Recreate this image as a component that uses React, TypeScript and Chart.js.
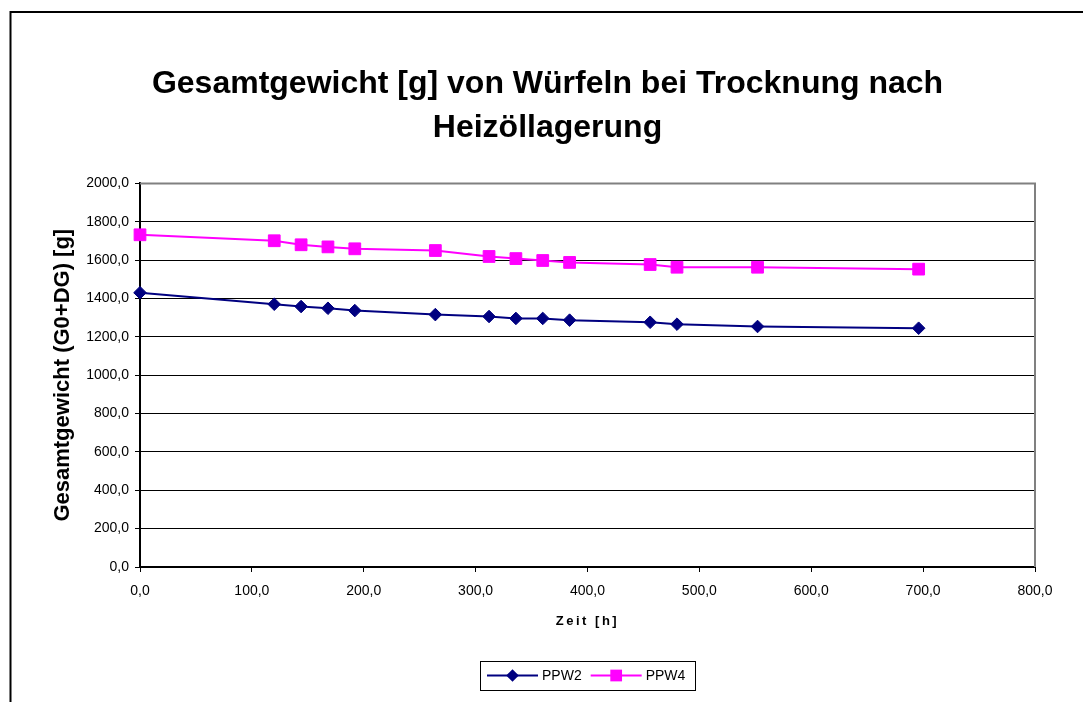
import React, { useEffect, useRef } from "react";
import { Chart, registerables } from "chart.js";

Chart.register(...registerables);

// ---- data ----
const hours = [0, 120, 144, 168, 192, 264, 312, 336, 360, 384, 456, 480, 552, 696];
const ppw2 = [1430, 1370, 1358, 1349, 1337, 1316, 1306, 1296, 1296, 1287, 1276, 1266, 1254, 1245];
const ppw4 = [1732, 1701, 1680, 1669, 1659, 1650, 1619, 1608, 1598, 1588, 1577, 1563, 1563, 1553];
const seriesNames = ["PPW2", "PPW4"];
const titleLines = ["Gesamtgewicht [g] von Würfeln bei Trocknung nach", "Heizöllagerung"];
const xTitle = "Zeit [h]";
const yTitle = "Gesamtgewicht (G0+DG) [g]";

const FONT = "'Liberation Sans', Arial, Helvetica, sans-serif";
const fmt = (v: number | string) => Number(v).toFixed(1).replace(".", ",");

const framePlugin = {
  id: "frame",
  beforeDraw(chart: any) {
    const ctx = chart.ctx;
    ctx.save();
    ctx.fillStyle = "#ffffff";
    ctx.fillRect(0, 0, chart.width, chart.height);
    ctx.strokeStyle = "#000000";
    ctx.lineWidth = 2;
    ctx.strokeRect(10.5, 12, chart.width + 40, chart.height + 40);
    ctx.restore();
  },
  beforeDatasetsDraw(chart: any) {
    const { ctx, chartArea } = chart;
    ctx.save();
    ctx.strokeStyle = "#808080";
    ctx.lineWidth = 2;
    ctx.beginPath();
    ctx.moveTo(chartArea.left, chartArea.top);
    ctx.lineTo(chartArea.right, chartArea.top);
    ctx.lineTo(chartArea.right, chartArea.bottom);
    ctx.stroke();
    ctx.restore();
  },
  afterLayout(chart: any) {
    const s = chart.scales.x;
    if (s && !s.__wrapped) {
      const orig = s.drawTitle.bind(s);
      s.drawTitle = (...args: any[]) => {
        const ctx = chart.ctx as any;
        ctx.save();
        ctx.letterSpacing = "2.5px";
        orig(...args);
        ctx.restore();
      };
      s.__wrapped = true;
    }
  },
};

function drawMarker(ctx: CanvasRenderingContext2D, style: string, r: number, x: number, y: number) {
  ctx.beginPath();
  if (style === "rectRot") {
    ctx.moveTo(x, y - r);
    ctx.lineTo(x + r, y);
    ctx.lineTo(x, y + r);
    ctx.lineTo(x - r, y);
  } else {
    const h = Math.SQRT1_2 * r;
    ctx.rect(x - h, y - h, 2 * h, 2 * h);
  }
  ctx.closePath();
  ctx.fill();
}

const legendPlugin = {
  id: "boxLegend",
  afterDraw(chart: any) {
    const { ctx, chartArea } = chart;
    ctx.save();
    ctx.font = `14px ${FONT}`;
    const items = chart.data.datasets.map((ds: any) => ({
      label: ds.label,
      color: ds.borderColor,
      style: ds.pointStyle,
      r: ds.pointRadius,
      w: ctx.measureText(ds.label).width,
    }));
    const lineLen = 51, gapText = 4, gapItem = 9, padL = 7, padR = 10, boxH = 29;
    let total = padL + padR + gapItem * (items.length - 1);
    items.forEach((it: any) => (total += lineLen + gapText + it.w));
    const cx = (chartArea.left + chartArea.right) / 2;
    const left = Math.round(cx - total / 2);
    const top = Math.round(chartArea.bottom + 94);
    const mid = top + boxH / 2;
    ctx.strokeStyle = "#000000";
    ctx.lineWidth = 1;
    ctx.strokeRect(left + 0.5, top + 0.5, Math.round(total), boxH);
    let x = left + padL;
    items.forEach((it: any) => {
      ctx.strokeStyle = it.color;
      ctx.fillStyle = it.color;
      ctx.lineWidth = 2;
      ctx.beginPath();
      ctx.moveTo(x, mid);
      ctx.lineTo(x + lineLen, mid);
      ctx.stroke();
      drawMarker(ctx, it.style, it.r, x + lineLen / 2, mid);
      ctx.fillStyle = "#000000";
      ctx.textBaseline = "middle";
      ctx.textAlign = "left";
      ctx.fillText(it.label, x + lineLen + gapText, mid + 1);
      x += lineLen + gapText + it.w + gapItem;
    });
    ctx.restore();
  },
};

export default function App() {
  const ref = useRef<HTMLCanvasElement | null>(null);

  useEffect(() => {
    if (!ref.current) return;
    const chart = new Chart(ref.current, {
      type: "line",
      data: {
        datasets: [
          {
            label: seriesNames[0],
            data: hours.map((h, i) => ({ x: h, y: ppw2[i] })),
            borderColor: "#000080",
            backgroundColor: "#000080",
            borderWidth: 2,
            pointStyle: "rectRot",
            pointRadius: 6.3,
            pointBorderWidth: 1,
            pointHoverRadius: 6.3,
            tension: 0,
            clip: false as any,
          },
          {
            label: seriesNames[1],
            data: hours.map((h, i) => ({ x: h, y: ppw4[i] })),
            borderColor: "#FF00FF",
            backgroundColor: "#FF00FF",
            borderWidth: 2,
            pointStyle: "rect",
            pointRadius: 8.3,
            pointBorderWidth: 1,
            pointHoverRadius: 8.3,
            tension: 0,
            clip: false as any,
          },
        ],
      },
      options: {
        responsive: false,
        animation: false,
        events: [],
        layout: { padding: { left: 12, top: 12, right: 0, bottom: 0 } },
        plugins: {
          legend: { display: false },
          tooltip: { enabled: false },
          title: {
            display: true,
            text: titleLines,
            color: "#000000",
            font: { family: FONT, size: 32, weight: "bold", lineHeight: 1.35 },
            padding: { top: 51, bottom: 34 },
          },
        },
        scales: {
          x: {
            type: "linear",
            min: 0,
            max: 800,
            ticks: {
              stepSize: 100,
              autoSkip: false,
              maxRotation: 0,
              color: "#000000",
              font: { family: FONT, size: 14 },
              padding: 11,
              callback: (v: any) => fmt(v),
            },
            grid: { drawOnChartArea: false, drawTicks: true, tickLength: 5, color: "#000000" },
            border: { color: "#000000", width: 2 },
            title: {
              display: true,
              text: xTitle,
              color: "#000000",
              font: { family: FONT, size: 13, weight: "bold" },
              padding: { top: 0, bottom: 73 },
            },
            afterFit: (s: any) => {
              s.height = 135;
            },
          },
          y: {
            type: "linear",
            min: 0,
            max: 2000,
            ticks: {
              stepSize: 200,
              color: "#000000",
              font: { family: FONT, size: 14 },
              padding: 6,
              callback: (v: any) => fmt(v),
            },
            grid: { color: "#000000", lineWidth: 1, tickLength: 5 },
            border: { color: "#000000", width: 2 },
            title: {
              display: true,
              text: yTitle,
              color: "#000000",
              font: { family: FONT, size: 22, weight: "bold" },
              padding: { top: 38, bottom: 0 },
            },
            afterFit: (s: any) => {
              s.width = 128;
            },
          },
          y2: {
            type: "linear",
            position: "right",
            min: 0,
            max: 1,
            display: true,
            grid: { display: false, drawTicks: false },
            ticks: { display: false },
            border: { display: false },
            afterFit: (s: any) => {
              s.width = 48;
            },
          },
        },
      } as any,
      plugins: [framePlugin, legendPlugin],
    });
    return () => chart.destroy();
  }, []);

  return (
    <div style={{ position: "absolute", left: 0, top: 0, width: 1083, height: 702 }}>
      <canvas ref={ref} width={1083} height={702} style={{ display: "block" }} />
    </div>
  );
}
